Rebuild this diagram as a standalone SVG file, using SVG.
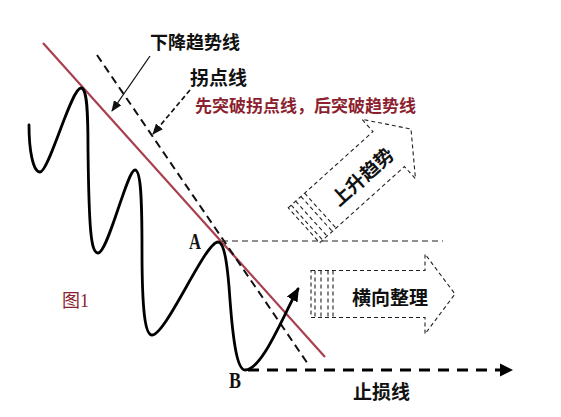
<svg xmlns="http://www.w3.org/2000/svg" width="561" height="417" viewBox="0 0 561 417">
<style>
.lbl{font-family:"Noto Sans CJK SC","Noto Sans",sans-serif;font-weight:700;fill:#111}
.red{font-family:"Noto Sans CJK SC","Noto Sans",sans-serif;font-weight:700;fill:#8c1f30}
.ser{font-family:"Liberation Serif","DejaVu Serif",serif;fill:#111}
.thin{fill:none;stroke:#222;stroke-width:1.1;stroke-dasharray:4 3}
.trend{fill:none;stroke:#a8404f;stroke-width:2.2}
.pivot{fill:none;stroke:#111;stroke-width:2;stroke-dasharray:8 5}
.price{fill:none;stroke:#000;stroke-width:2.8;stroke-linejoin:round;stroke-linecap:round}
</style>
<defs>
<marker id="tri" markerUnits="userSpaceOnUse" markerWidth="14" markerHeight="12" viewBox="0 0 14 12" refX="12" refY="6" orient="auto">
<path d="M0,0 L14,6 L0,12 Z" fill="#000"/>
</marker>
<marker id="sm" markerUnits="userSpaceOnUse" markerWidth="11" markerHeight="9" viewBox="0 0 11 9" refX="10" refY="4.5" orient="auto">
<path d="M0,0 L11,4.5 L0,9 Z" fill="#111"/>
</marker>
<g id="bigArrow">
<path class="thin" d="M-144,-23.5 H-30 V-40 L0,0 L-30,40 V23.5 H-144 Z"/>
<path class="thin" d="M-140,-23.5 V23.5 M-134,-23.5 V23.5 M-127,-23.5 V23.5 M-122,-23.5 V23.5"/>
</g>
</defs>
<rect width="561" height="417" fill="#fff"/>

<g id="connectors">
<line class="trend" x1="43" y1="43" x2="325" y2="357"/>
<line class="pivot" x1="97" y1="55" x2="308" y2="364"/>
<line x1="222" y1="241" x2="443" y2="241" stroke="#222" stroke-width="1.2" stroke-dasharray="6 4"/>
<line x1="248" y1="370" x2="502" y2="370" stroke="#000" stroke-width="3.2" stroke-dasharray="11 8"/>
<path d="M500,363.5 L513,370 L500,376.5 Z" fill="#000"/>
<path class="price" marker-end="url(#tri)" d="M29,125 C29,150 33,172 40,172 C49,172 71,88 81,88 C87,88 88,110 88,150 C89,230 91,253 98,253 C108,253 127,170 135,170 C141,170 142,200 142,250 C142,310 145,335 152,335 C166,335 205,242 218,242 C225,242 228,270 230,300 C233,340 237,370 245,370 C262,370 282,318 298,289"/>
<line x1="150" y1="56" x2="112" y2="111" stroke="#111" stroke-width="1.3" marker-end="url(#sm)"/>
<line x1="190" y1="90" x2="153" y2="134" stroke="#111" stroke-width="1.7" stroke-dasharray="5 3" marker-end="url(#sm)"/>
</g>

<g id="label-downtrend"><text class="lbl" x="150" y="49" font-size="18">下降趋势线</text></g>
<g id="label-pivot"><text class="lbl" x="190" y="85" font-size="19">拐点线</text></g>
<g id="label-note"><text class="red" x="195" y="111.5" font-size="17">先突破拐点线，后突破趋势线</text></g>
<g id="label-fig"><text x="62" y="307" font-size="18" fill="#8c1f30" font-family="Liberation Serif,Noto Sans CJK SC,serif">图1</text></g>
<g id="label-A"><text class="ser" x="189" y="249" font-size="23" font-weight="700" textLength="12" lengthAdjust="spacingAndGlyphs">A</text></g>
<g id="label-B"><text class="ser" x="229" y="388" font-size="23" font-weight="700" textLength="12" lengthAdjust="spacingAndGlyphs">B</text></g>
<g id="label-stoploss"><text class="lbl" x="353" y="399" font-size="19">止损线</text></g>

<g id="arrow-up" transform="translate(411,129) rotate(-42)">
<use href="#bigArrow"/>
<text class="lbl" x="-68" y="10" font-size="19" text-anchor="middle">上升趋势</text>
</g>
<g id="arrow-side" transform="translate(455,294)">
<use href="#bigArrow"/>
<text class="lbl" x="-65" y="11" font-size="19" text-anchor="middle">横向整理</text>
</g>
</svg>
